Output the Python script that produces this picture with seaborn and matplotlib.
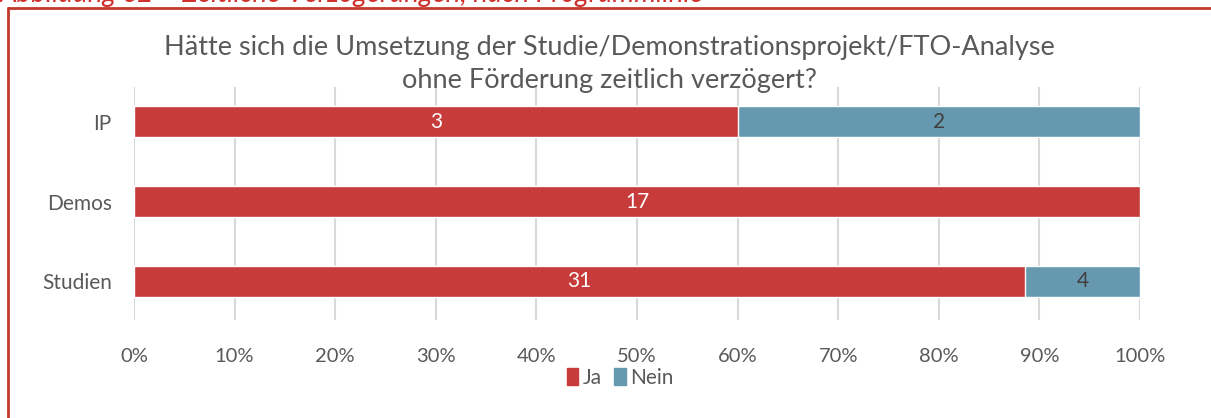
import pandas as pd
import matplotlib.pyplot as plt
import seaborn as sns
from matplotlib.patches import Patch
from matplotlib.lines import Line2D

# ---------------------------------------------------
# data
categories = ['IP', 'Demos', 'Studien']
ja_counts = [3, 17, 31]
nein_counts = [2, 0, 4]
x_ticks = [0, 10, 20, 30, 40, 50, 60, 70, 80, 90, 100]
x_tick_labels = ['0%', '10%', '20%', '30%', '40%', '50%', '60%', '70%', '80%', '90%', '100%']

title = 'Hätte sich die Umsetzung der Studie/Demonstrationsprojekt/FTO-Analyse\nohne Förderung zeitlich verzögert?'
caption = 'Abbildung 62 – Zeitliche Verzögerungen, nach Programmlinie'

red = '#C73B3B'
blue = '#6699B0'
grey = '#595959'

df = pd.DataFrame({'Programm': categories, 'Ja': ja_counts, 'Nein': nein_counts})
df['Total'] = df['Ja'] + df['Nein']
df['Ja_pct'] = df['Ja'] / df['Total'] * 100
df['Total_pct'] = 100.0

sns.set_theme(style='white')
plt.rcParams['font.family'] = ['Lato', 'DejaVu Sans']

fig = plt.figure(figsize=(12.11, 4.18), dpi=100)
ax = fig.add_axes([134 / 1211, 1 - 320 / 418, (1140 - 134) / 1211, (320 - 87) / 418])

# stacked: full bar in blue, Ja share in red on top
sns.barplot(data=df, y='Programm', x='Total_pct', color=blue, width=0.39,
            orient='h', ax=ax, saturation=1, zorder=2)
sns.barplot(data=df, y='Programm', x='Ja_pct', color=red, width=0.39,
            orient='h', ax=ax, saturation=1, zorder=3)

for i, row in df.iterrows():
    if row['Ja'] > 0:
        ax.text(row['Ja_pct'] / 2, i, str(row['Ja']), ha='center', va='center',
                color='white', fontsize=15, zorder=4)
    if row['Nein'] > 0:
        ax.text(row['Ja_pct'] + (100 - row['Ja_pct']) / 2, i, str(row['Nein']),
                ha='center', va='center', color='#404040', fontsize=15, zorder=4)

ax.set_xlim(0, 100)
ax.set_ylim(2.49, -0.44)
ax.set_xticks(x_ticks)
ax.set_xticklabels(x_tick_labels)
ax.xaxis.grid(True, color='#D9D9D9', linewidth=1.5, zorder=0)
ax.yaxis.grid(False)
ax.set_axisbelow(True)
for s in ax.spines.values():
    s.set_visible(False)
ax.tick_params(axis='x', colors=grey, labelsize=14.5, length=0, pad=20)
ax.tick_params(axis='y', colors=grey, labelsize=15, length=0, pad=16)
ax.set_xlabel('')
ax.set_ylabel('')

fig.text(0.503, 1 - 64 / 418, title, ha='center', va='center', fontsize=19.5,
         color=grey, linespacing=1.4)

handles = [Patch(color=red, label='Ja'), Patch(color=blue, label='Nein')]
fig.legend(handles=handles, loc='center', bbox_to_anchor=(0.512, 1 - 378 / 418),
           ncol=2, frameon=False, fontsize=15, handlelength=0.55, handleheight=0.9,
           handletextpad=0.2, columnspacing=0.6, labelcolor=grey)

# caption (cut at the top) and frame
fig.text(0.0, 1 - 2 / 418, caption, ha='left', va='baseline', fontsize=20,
         color='#D0312D', style='italic')
fig.add_artist(Line2D([8 / 1211, 8 / 1211], [0, 1 - 8 / 418], color='#C0392B',
                      linewidth=2, transform=fig.transFigure))
fig.add_artist(Line2D([8 / 1211, 1], [1 - 8 / 418, 1 - 8 / 418], color='#C0392B',
                      linewidth=2, transform=fig.transFigure))

fig.savefig('out.png', dpi=100)
